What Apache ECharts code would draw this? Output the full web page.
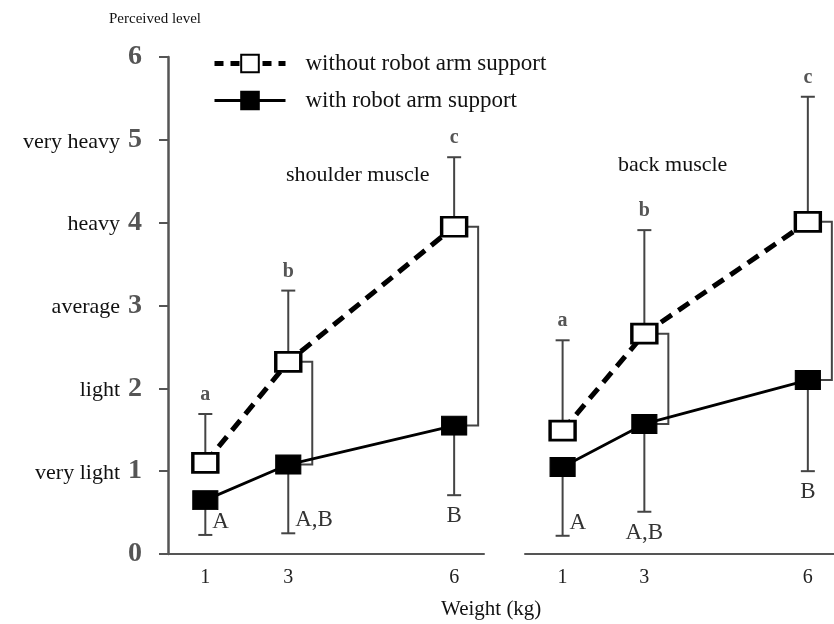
<!DOCTYPE html>
<html>
<head>
<meta charset="utf-8">
<script src="https://cdn.jsdelivr.net/npm/echarts@6/dist/echarts.min.js"></script>
<style>
  html, body { margin: 0; padding: 0; background: #fff; }
  #chart { width: 834px; height: 624px; }
</style>
</head>
<body>
<div id="chart"></div>
<script>
// weights are drawn on an uneven spacing (1, 3, _, 6)
const weights = ['1', '3', '6']
const weightSlots = [1, 2, 4]
const levelNames = ['', 'very light', 'light', 'average', 'heavy', 'very heavy', '']

const shoulderWithout = [1.1, 2.32, 3.95]
const shoulderWithoutTop = [1.69, 3.18, 4.79]
const shoulderWith = [0.65, 1.08, 1.55]
const shoulderWithBottom = [0.23, 0.25, 0.71]

const backWithout = [1.49, 2.66, 4.01]
const backWithoutTop = [2.58, 3.91, 5.52]
const backWith = [1.05, 1.57, 2.1]
const backWithBottom = [0.22, 0.51, 1.0]

const withoutLetters = ['a', 'b', 'c']
const withLetters = ['A', 'A,B', 'B']
const bracketWeights = ['3', '6']

const SERIF = '"Liberation Serif", "DejaVu Serif", serif'
const INK = '#444'

// where the significance letter sits relative to the whisker end
const letterPlace = {
  shoulderWith: ['right', 'right', 'below'],
  backWith: ['right', 'below', 'below'],
}

function pairs(vals) {
  return weightSlots.map((s, i) => [s, vals[i]])
}

function errorBar(name, gi, mean, end, letters, place) {
  return {
    name: name + ' err',
    type: 'custom',
    xAxisIndex: gi,
    yAxisIndex: gi,
    z: 1,
    silent: true,
    encode: { x: 0, y: [1, 2] },
    data: weightSlots.map((s, i) => [s, mean[i], end[i]]),
    renderItem: (params, api) => {
      const x = api.value(0)
      const p0 = api.coord([x, api.value(1)])
      const p1 = api.coord([x, api.value(2)])
      const up = p1[1] < p0[1]
      const st = { stroke: INK, lineWidth: 2 }
      const kids = [
        { type: 'line', shape: { x1: p0[0], y1: p0[1], x2: p1[0], y2: p1[1] }, style: st },
        { type: 'line', shape: { x1: p1[0] - 7, y1: p1[1], x2: p1[0] + 7, y2: p1[1] }, style: st },
      ]
      const pl = place ? place[params.dataIndex] : 'above'
      const txt = letters[params.dataIndex]
      let tx = p1[0], ty, align = 'center'
      if (pl === 'above') ty = p1[1] - 19
      else if (pl === 'below') ty = p1[1] + 21
      else { tx = p1[0] + 7; ty = p1[1] - 13; align = 'left' }
      kids.push({
        type: 'text',
        x: tx,
        y: ty,
        style: {
          text: txt,
          fill: up ? '#555' : '#333',
          fontFamily: SERIF,
          fontWeight: up ? 'bold' : 'normal',
          fontSize: up ? 20 : 23,
          align: align,
          verticalAlign: 'middle',
        },
      })
      return { type: 'group', children: kids }
    },
  }
}

function bracket(gi, top, bottom) {
  return {
    type: 'custom',
    xAxisIndex: gi,
    yAxisIndex: gi,
    z: 1,
    silent: true,
    encode: { x: 0, y: [1, 2] },
    data: bracketWeights.map((w) => {
      const i = weights.indexOf(w)
      return [weightSlots[i], top[i], bottom[i]]
    }),
    renderItem: (params, api) => {
      const x = api.value(0)
      const a = api.coord([x, api.value(1)])
      const b = api.coord([x, api.value(2)])
      return {
        type: 'polyline',
        shape: { points: [[a[0] + 12, a[1]], [a[0] + 24, a[1]], [b[0] + 24, b[1]], [b[0] + 12, b[1]]] },
        style: { stroke: INK, lineWidth: 2, fill: null },
      }
    },
  }
}

function lineSeries(name, gi, vals, open) {
  return {
    name: name,
    type: 'line',
    xAxisIndex: gi,
    yAxisIndex: gi,
    z: 3,
    data: pairs(vals),
    symbol: 'rect',
    symbolSize: [25, 19],
    showAllSymbol: true,
    lineStyle: open
      ? { color: '#000', width: 5, type: [13, 8] }
      : { color: '#000', width: 2.8 },
    itemStyle: open
      ? { color: '#fff', borderColor: '#000', borderWidth: 3 }
      : { color: '#000', borderColor: '#000', borderWidth: 1 },
    emphasis: { disabled: true },
  }
}

const WITHOUT = 'without robot arm support'
const WITH = 'with robot arm support'

const xAxisBase = {
  type: 'value',
  splitLine: { show: false },
  axisTick: { show: false },
  axisLine: { lineStyle: { color: '#555', width: 2 } },
  axisLabel: {
    customValues: weightSlots,
    formatter: (v) => weights[weightSlots.indexOf(v)] || '',
    color: '#222',
    fontFamily: SERIF,
    fontSize: 20,
    margin: 14,
  },
}

const plain = (size) => ({ fontFamily: SERIF, fontSize: size, fontWeight: 'normal', color: '#111' })

const chart = echarts.init(document.getElementById('chart'))
chart.setOption({
  backgroundColor: '#fff',
  animation: false,
  title: [
    { text: 'Perceived level', left: 104, top: 7, textStyle: plain(15) },
    { text: 'shoulder muscle', left: 281, top: 159, textStyle: plain(22) },
    { text: 'back muscle', left: 613, top: 149, textStyle: plain(22) },
    { text: 'Weight (kg)', left: 436, top: 594, textStyle: plain(21) },
  ],
  legend: {
    data: [
      { name: WITHOUT, lineStyle: { width: 5, type: [9, 7] } },
      { name: WITH, lineStyle: { width: 3 } },
    ],
    orient: 'vertical',
    left: 207,
    top: 47,
    itemWidth: 71,
    itemHeight: 22,
    itemGap: 14,
    selectedMode: false,
    textStyle: { fontFamily: SERIF, fontSize: 23, color: '#111', padding: [0, 0, 0, 15] },
  },
  grid: [
    { left: 168, top: 57, width: 316, height: 497 },
    { left: 525, top: 57, width: 309, height: 497 },
  ],
  xAxis: [
    Object.assign({}, xAxisBase, { gridIndex: 0, min: 0.55, max: 4.36 }),
    Object.assign({}, xAxisBase, { gridIndex: 1, min: 0.54, max: 4.32 }),
  ],
  yAxis: [
    {
      gridIndex: 0,
      type: 'value',
      min: 0,
      max: 6,
      interval: 1,
      splitLine: { show: false },
      axisLine: { show: true, lineStyle: { color: '#555', width: 2.5 } },
      axisTick: { show: true, length: 9, lineStyle: { color: '#555', width: 2 } },
      axisLabel: {
        margin: 26,
        formatter: (v) => (levelNames[v] ? '{t|' + levelNames[v] + '}' : '') + '{n|' + v + '}',
        rich: {
          t: { fontFamily: SERIF, fontSize: 22, color: '#111', padding: [4, 8, 0, 0] },
          n: { fontFamily: SERIF, fontSize: 28, fontWeight: 'bold', color: '#555' },
        },
      },
    },
    { gridIndex: 1, type: 'value', min: 0, max: 6, show: false },
  ],
  series: [
    errorBar('sw', 0, shoulderWithout, shoulderWithoutTop, withoutLetters, null),
    errorBar('sr', 0, shoulderWith, shoulderWithBottom, withLetters, letterPlace.shoulderWith),
    bracket(0, shoulderWithout, shoulderWith),
    lineSeries(WITHOUT, 0, shoulderWithout, true),
    lineSeries(WITH, 0, shoulderWith, false),
    errorBar('bw', 1, backWithout, backWithoutTop, withoutLetters, null),
    errorBar('br', 1, backWith, backWithBottom, withLetters, letterPlace.backWith),
    bracket(1, backWithout, backWith),
    lineSeries(WITHOUT, 1, backWithout, true),
    lineSeries(WITH, 1, backWith, false),
  ],
})
</script>
</body>
</html>
